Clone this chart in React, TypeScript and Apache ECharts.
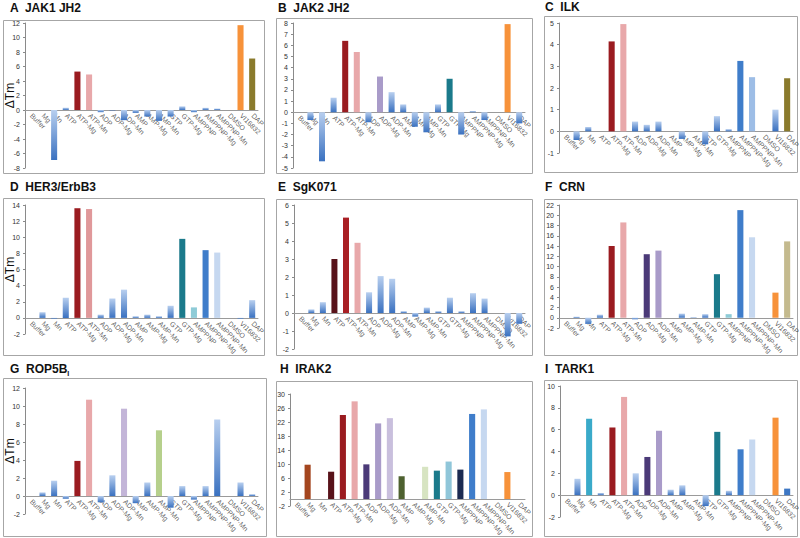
import React, { useEffect, useRef } from "react";
import * as echarts from "echarts";

const categories = [
  "Buffer", "Mg", "Mn", "ATP", "ATP-Mg", "ATP-Mn", "ADP", "ADP-Mg", "ADP-Mn",
  "AMP", "AMP-Mg", "AMP-Mn", "GTP", "GTP-Mg", "AMPPNP", "AMPPNP-Mg", "AMPPNP-Mn",
  "DMSO", "VI16832", "DAP",
];

const jak1Values = [0, 0, -6.9, 0.3, 5.3, 4.9, -0.3, -0.05, -1.4, -0.4, -0.9, -1.5, -0.9, 0.5, -0.3, 0.3, 0.2, 0, 11.7, 7.1];
const jak2Values = [0, -0.7, -4.4, 1.3, 6.4, 5.4, -0.9, 3.2, 1.8, 0.7, -1.3, -1.8, 0.7, 3.0, -2.0, 0.1, -0.7, 0, 7.9, -1.0];
const ilkValues = [0, -0.4, 0.2, 0, 4.15, 4.95, 0.45, 0.3, 0.45, 0, -0.35, 0, -0.6, 0.7, 0.1, 3.25, 2.5, 0, 1.0, 2.45];
const her3Values = [0, 0.7, -0.1, 2.5, 13.6, 13.5, 0.4, 2.4, 3.5, 0.2, 0.4, 0.2, 1.5, 9.8, 1.3, 8.4, 8.1, 0, -0.1, 2.2];
const sgk071Values = [0, 0.2, 0.6, 3.0, 5.3, 3.9, 1.15, 2.05, 1.9, 0.1, -0.2, 0.3, 0.1, 0.85, 0.1, 1.1, 0.8, 0, -1.3, -0.6];
const crnValues = [0, 0.2, -1.2, 0.6, 14.0, 18.6, -0.3, 12.4, 13.1, 0, 0.8, 0.1, 0.7, 8.5, 0.7, 21.0, 15.7, 0, 4.9, 14.9];
const rop5bValues = [0, 0.4, 1.7, -0.3, 3.9, 10.7, -0.7, 2.3, 9.7, -0.8, 1.5, 7.3, -1.3, 1.1, -0.4, 1.1, 8.5, 0, 1.5, 0.2];
const irak2Values = [0, 9.8, 0, 7.8, 24.0, 27.9, 9.9, 21.6, 23.1, 6.5, 0, 9.2, 8.1, 10.7, 8.4, 24.3, 25.6, 0, 7.7, 0];
const tark1Values = [0, 1.5, 7.0, 0.2, 6.2, 9.0, 2.0, 3.5, 5.9, 0.5, 0.9, 0, -1.0, 5.8, 0.4, 4.2, 5.1, 0, 7.1, 0.6];

const hTicks = [-2, 2, 6, 10, 14, 18, 22, 26, 30];

const FONT = "Liberation Sans, Arial, sans-serif";

const C = {
  darkRed: "#9a1b20",
  red: "#a91f24",
  pink: "#e8a8aa",
  orange: "#f7923a",
  olive: "#8a7a2c",
  tan: "#c4ba8e",
  lavender: "#a99bc9",
  lightLav: "#c9bfdd",
  darkPurple: "#4b3a78",
  teal: "#1b7a8b",
  lightTeal: "#8ecbd7",
  blue: "#3f7dca",
  midBlue: "#9dbde6",
  lightBlue: "#c6d8f0",
  maroon: "#581219",
  green: "#b6d08c",
  darkGreen: "#4e6130",
  paleGreen: "#d7e4c2",
  brown: "#a4461f",
  navy: "#1c2b52",
  cyan: "#3aaac9",
};

type Panel = {
  title: string;
  sub?: string;
  values: number[];
  colors: Record<string, string>;
  grid: { left: number; top: number; width: number; height: number };
  frame: [number, number, number, number];
  titlePos: [number, number];
  min: number;
  max: number;
  interval?: number;
  custom?: number[];
  yName?: boolean;
};

const panels: Panel[] = [
  {
    title: "A  JAK1 JH2", values: jak1Values,
    colors: { "ATP-Mg": C.darkRed, "ATP-Mn": C.pink, VI16832: C.orange, DAP: C.olive },
    grid: { left: 25, top: 23, width: 233, height: 145 }, frame: [3, 20, 264, 173], titlePos: [10, 8],
    min: -8, max: 12, interval: 2, yName: true,
  },
  {
    title: "B  JAK2 JH2", values: jak2Values,
    colors: { "ATP-Mg": C.darkRed, "ATP-Mn": C.pink, "ADP-Mg": C.lavender, "GTP-Mg": C.teal, VI16832: C.orange },
    grid: { left: 293, top: 23, width: 232, height: 145 }, frame: [276, 18, 532, 173], titlePos: [278, 8],
    min: -5, max: 8, interval: 1,
  },
  {
    title: "C  ILK", values: ilkValues,
    colors: { "ATP-Mg": C.darkRed, "ATP-Mn": C.pink, "AMPPNP-Mg": C.blue, "AMPPNP-Mn": C.midBlue, DAP: C.olive },
    grid: { left: 559, top: 23, width: 234, height: 130 }, frame: [544, 16, 797, 172], titlePos: [545, 7],
    min: -1, max: 5, interval: 1,
  },
  {
    title: "D  HER3/ErbB3", values: her3Values,
    colors: { "ATP-Mg": C.darkRed, "ATP-Mn": "#e0989a", "GTP-Mg": C.teal, AMPPNP: C.lightTeal, "AMPPNP-Mg": C.blue, "AMPPNP-Mn": C.lightBlue },
    grid: { left: 25, top: 205, width: 233, height: 129 }, frame: [3, 198, 264, 355], titlePos: [10, 187],
    min: -2, max: 14, interval: 2, yName: true,
  },
  {
    title: "E  SgK071", values: sgk071Values,
    colors: { ATP: C.maroon, "ATP-Mg": C.red, "ATP-Mn": C.pink },
    grid: { left: 294, top: 205, width: 231, height: 144 }, frame: [276, 199, 532, 355], titlePos: [278, 187],
    min: -2, max: 6, interval: 1,
  },
  {
    title: "F  CRN", values: crnValues,
    colors: {
      "ATP-Mg": C.darkRed, "ATP-Mn": C.pink, "ADP-Mg": C.darkPurple, "ADP-Mn": C.lavender, "GTP-Mg": C.teal,
      AMPPNP: C.lightTeal, "AMPPNP-Mg": C.blue, "AMPPNP-Mn": C.lightBlue, VI16832: C.orange, DAP: C.tan,
    },
    grid: { left: 559, top: 205, width: 234, height: 123 }, frame: [544, 199, 797, 355], titlePos: [545, 187],
    min: -2, max: 22, interval: 2,
  },
  {
    title: "G  ROP5B", sub: "I", values: rop5bValues,
    colors: { "ATP-Mg": C.darkRed, "ATP-Mn": C.pink, "ADP-Mn": "#c3b5d8", "AMP-Mn": C.green },
    grid: { left: 25, top: 388, width: 233, height: 126 }, frame: [3, 378, 266, 536], titlePos: [10, 369],
    min: -2, max: 12, interval: 2, yName: true,
  },
  {
    title: "H  IRAK2", values: irak2Values,
    colors: {
      Mg: C.brown, ATP: C.maroon, "ATP-Mg": C.darkRed, "ATP-Mn": C.pink, ADP: C.darkPurple, "ADP-Mg": C.lavender,
      "ADP-Mn": C.lightLav, AMP: C.darkGreen, "AMP-Mn": C.paleGreen, GTP: C.teal, "GTP-Mg": "#90c6d9",
      AMPPNP: C.navy, "AMPPNP-Mg": C.blue, "AMPPNP-Mn": C.lightBlue, VI16832: C.orange,
    },
    grid: { left: 290, top: 394, width: 235, height: 112 }, frame: [276, 381, 532, 536], titlePos: [280, 369],
    min: -2, max: 30, custom: hTicks,
  },
  {
    title: "I  TARK1", values: tark1Values,
    colors: {
      Mn: C.cyan, "ATP-Mg": C.darkRed, "ATP-Mn": C.pink, "ADP-Mg": C.darkPurple, "ADP-Mn": C.lavender,
      "GTP-Mg": C.teal, "AMPPNP-Mg": C.blue, "AMPPNP-Mn": C.lightBlue, VI16832: C.orange, DAP: "#3d77c4",
    },
    grid: { left: 560, top: 386, width: 233, height: 131 }, frame: [544, 380, 797, 536], titlePos: [545, 369],
    min: -2, max: 10, interval: 2,
  },
];

const blueGradient = () => ({
  type: "linear", x: 0, y: 0, x2: 0, y2: 1,
  colorStops: [
    { offset: 0, color: "#b8cfef" },
    { offset: 1, color: "#3a71c0" },
  ],
});

export default function App() {
  const ref = useRef<HTMLDivElement>(null);
  useEffect(() => {
    document.body.style.margin = "0";
    if (!ref.current) return;
    const chart = echarts.init(ref.current, undefined, { renderer: "svg" });

    const grids = panels.map((p) => ({ ...p.grid, containLabel: false }));
    const xAxes = panels.map((p, i) => ({
      type: "category", gridIndex: i, data: categories,
      axisLine: { onZero: true, lineStyle: { color: "#9a9a9a", width: 1 } },
      axisTick: { show: false },
      axisLabel: { show: false },
      splitLine: { show: false },
    }));
    const yAxes = panels.map((p, i) => {
      const ax: any = {
        type: "value", gridIndex: i, min: p.min, max: p.max,
        axisLine: { show: true, lineStyle: { color: "#8a8a8a", width: 1 } },
        axisTick: { show: true, length: 2, lineStyle: { color: "#8a8a8a" } },
        axisLabel: { fontSize: 7, color: "#333", margin: 5, fontFamily: FONT },
        splitLine: { show: false },
      };
      if (p.interval) ax.interval = p.interval;
      if (p.custom) {
        ax.axisLabel.customValues = p.custom;
        ax.axisTick.customValues = p.custom;
      }
      return ax;
    });
    const labelSeries = panels.map((p, i) => ({
      type: "scatter", xAxisIndex: i, yAxisIndex: i, symbolSize: 1, z: 1,
      itemStyle: { color: "rgba(0,0,0,0)" },
      silent: true,
      data: categories.map((c) => ({ name: c, value: [c, 0] })),
      label: {
        show: true, formatter: "{b}", position: [1, 5], rotate: -45,
        align: "left", verticalAlign: "middle",
        fontSize: 7, color: "#333", fontFamily: FONT,
      },
    }));
    const barSeries = panels.map((p, i) => ({
      type: "bar", xAxisIndex: i, yAxisIndex: i, barWidth: "52%", z: 3,
      data: p.values.map((v, j) => ({
        value: v,
        itemStyle: { color: p.colors[categories[j]] || blueGradient() },
      })),
    }));

    const graphics: any[] = [];
    panels.forEach((p) => {
      const [x1, y1, x2, y2] = p.frame;
      graphics.push({
        type: "rect", shape: { x: x1 + 0.5, y: y1 + 0.5, width: x2 - x1, height: y2 - y1 },
        style: { fill: "none", stroke: "#a6a6a6", lineWidth: 1 }, silent: true, z: 0,
      });
      graphics.push({
        type: "text", x: p.titlePos[0], y: p.titlePos[1],
        style: {
          text: p.sub ? `${p.title}{sub|${p.sub}}` : p.title,
          fill: "#111", font: `bold 12px ${FONT}`, verticalAlign: "middle", align: "left",
          rich: { sub: { fontSize: 7, fontWeight: "bold", fontFamily: FONT, fill: "#111", padding: [9, 0, 0, 0] } },
        },
      });
      if (p.yName) {
        graphics.push({
          type: "text", x: 10, y: p.grid.top + p.grid.height / 2, rotation: Math.PI / 2,
          style: { text: "ΔTm", fill: "#111", font: `12px ${FONT}`, align: "center", verticalAlign: "middle" },
        });
      }
    });

    chart.setOption({
      animation: false,
      backgroundColor: "#ffffff",
      grid: grids,
      xAxis: xAxes,
      yAxis: yAxes,
      series: [...labelSeries, ...barSeries],
      graphic: graphics,
    });
    return () => chart.dispose();
  }, []);
  return <div ref={ref} style={{ width: 800, height: 538 }} />;
}
